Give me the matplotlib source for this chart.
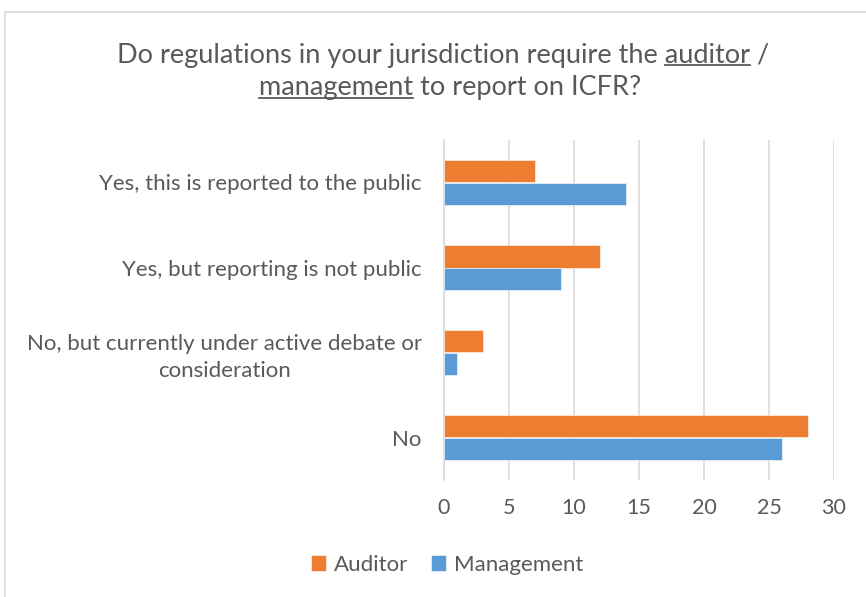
import numpy as np
import matplotlib.pyplot as plt
from matplotlib.patches import Rectangle
from matplotlib.lines import Line2D

plt.rcParams['font.family'] = ['Lato', 'DejaVu Sans']

categories = ['Yes, this is reported to the public',
              'Yes, but reporting is not public',
              'No, but currently under active debate or\nconsideration',
              'No']
auditor = [7, 12, 3, 28]
management = [14, 9, 1, 26]
series_names = ['Auditor', 'Management']
xticks = [0, 5, 10, 15, 20, 25, 30]

orange = '#ED7D31'
blue = '#5B9BD5'
txt = '#595959'
grid = '#D9D9D9'

W, H = 866, 597
fig = plt.figure(figsize=(W / 100, H / 100), dpi=100)

# chart frame (top/left visible, rest off the image)
fig.add_artist(Rectangle((5 / W, -0.05), 1.1, 1 - 12 / H + 0.05, transform=fig.transFigure,
                         facecolor='none', edgecolor=grid, lw=1.2))

ax = fig.add_axes([444 / W, 1 - 480 / H, 390 / W, 340 / H])
y = np.arange(len(categories))
h = 0.26
b1 = ax.barh(y - h / 2, auditor, h, color=orange, edgecolor='white', linewidth=0.4, zorder=3)
b2 = ax.barh(y + h / 2, management, h, color=blue, edgecolor='white', linewidth=0.4, zorder=3)

ax.set_ylim(3.5, -0.5)
ax.set_xlim(0, 30)
ax.set_xticks(xticks)
ax.set_yticks(y)
ax.set_yticklabels(categories, color=txt, fontsize=16, ha='right', multialignment='center',
                   linespacing=1.38)
ax.tick_params(axis='x', colors=txt, labelsize=15.5, length=0, pad=13)
ax.tick_params(axis='y', length=0, pad=16)
ax.grid(axis='x', color=grid, lw=1.2, zorder=0)
for s in ['top', 'right', 'bottom']:
    ax.spines[s].set_visible(False)
ax.spines['left'].set_color(grid)
ax.spines['left'].set_linewidth(1.2)

ax.legend([b1, b2], series_names, loc='center', bbox_to_anchor=(447 / W, 1 - 565 / H),
          bbox_transform=fig.transFigure, ncol=2, frameon=False, fontsize=16,
          handlelength=0.7, handleheight=0.7, handletextpad=0.35, columnspacing=1.0,
          labelcolor=txt)

# title with underlined words
line1 = 'Do regulations in your jurisdiction require the auditor /'
line2 = 'management to report on ICFR?'
tsize = 19.5
x1, y1 = 443.5 / W, 1 - 55 / H
x2, y2 = 450 / W, 1 - 88 / H
t1 = fig.text(x1, y1, line1, ha='center', va='center', fontsize=tsize, color=txt)
t2 = fig.text(x2, y2, line2, ha='center', va='center', fontsize=tsize, color=txt)

fig.canvas.draw()
r = fig.canvas.get_renderer()


def width_of(s):
    t = fig.text(0, 0, s, fontsize=tsize)
    w = t.get_window_extent(r).width
    t.remove()
    return w


bb1 = t1.get_window_extent(r)
bb2 = t2.get_window_extent(r)
end1 = bb1.x0 + width_of('Do regulations in your jurisdiction require the auditor')
start1 = end1 - width_of('auditor')
start2 = bb2.x0
end2 = start2 + width_of('management')
for xa, xb, bb in [(start1, end1, bb1), (start2, end2, bb2)]:
    yy = bb.y0 + 3
    fig.add_artist(Line2D([xa / W, xb / W], [yy / H, yy / H], transform=fig.transFigure,
                          color=txt, lw=1.3))

fig.savefig('out.png', dpi=100)
